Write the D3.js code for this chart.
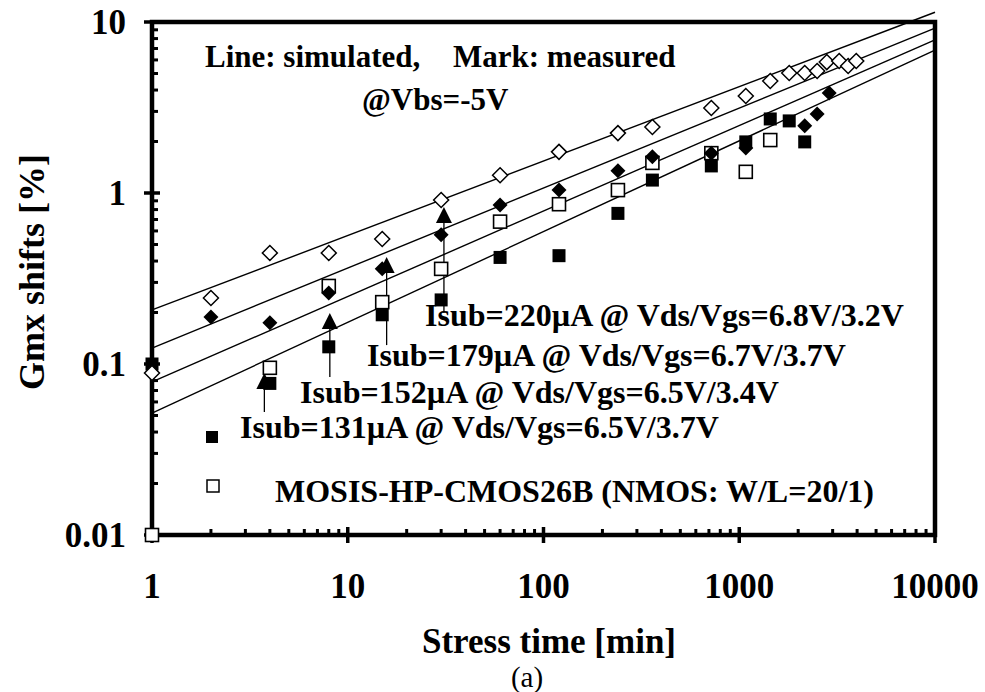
<!DOCTYPE html>
<html>
<head>
<meta charset="utf-8">
<script src="https://cdn.jsdelivr.net/npm/d3@7"></script>
<style>
  body { margin: 0; background: #fff; }
  svg { display: block; }
  text { font-family: "Liberation Serif", "Times New Roman", serif; font-weight: bold; fill: #000; }
</style>
</head>
<body>
<svg id="chart" width="985" height="692"></svg>
<script>
// ---- measured Gmx shift [%] versus stress time [min] ----
const timeOpenDiamond  = [1, 2, 4, 8, 15, 30, 60, 120, 240, 360, 720, 1080, 1440, 1800, 2160, 2500, 2800, 3240, 3600, 3960];
const shiftOpenDiamond = [0.0886, 0.243, 0.446, 0.446, 0.538, 0.91, 1.27, 1.74, 2.24, 2.43, 3.14, 3.69, 4.52, 5.03, 5.03, 5.17, 5.83, 5.91, 5.53, 5.91];

const timeFilledDiamond  = [2, 4, 8, 15, 30, 60, 120, 240, 360, 720, 1080, 2160, 2500, 2880];
const shiftFilledDiamond = [0.188, 0.174, 0.26, 0.36, 0.57, 0.85, 1.04, 1.35, 1.63, 1.71, 1.83, 2.47, 2.90, 3.85];

const timeFilledSquare  = [1, 4, 8, 15, 30, 60, 120, 240, 360, 720, 1080, 1440, 1800, 2160];
const shiftFilledSquare = [0.1, 0.077, 0.126, 0.194, 0.237, 0.42, 0.43, 0.76, 1.19, 1.44, 1.99, 2.71, 2.64, 1.99];

const timeOpenSquare  = [1, 4, 8, 15, 30, 60, 120, 240, 360, 720, 1080, 1440];
const shiftOpenSquare = [0.01, 0.095, 0.286, 0.23, 0.36, 0.68, 0.86, 1.04, 1.5, 1.71, 1.33, 2.04];

// ---- simulated power-law lines (end points) ----
const simTime = [1, 10000];
const simShiftA = [0.207, 11.4];
const simShiftB = [0.124, 9.2];
const simShiftC = [0.0785, 7.85];
const simShiftD = [0.0516, 6.85];

// ---- axes ----
const xTickValues = [1, 10, 100, 1000, 10000];
const xTickLabels = ["1", "10", "100", "1000", "10000"];
const yTickValues = [0.01, 0.1, 1, 10];
const yTickLabels = ["0.01", "0.1", "1", "10"];

// ---- annotation labels and their arrows (time, tip value, tail value) ----
const stressLabels = [
  "Isub=220\u00B5A @ Vds/Vgs=6.8V/3.2V",
  "Isub=179\u00B5A @ Vds/Vgs=6.7V/3.7V",
  "Isub=152\u00B5A @ Vds/Vgs=6.5V/3.4V",
  "Isub=131\u00B5A @ Vds/Vgs=6.5V/3.7V"
];
const arrowTime = [31, 15.8, 8.1, 3.75];
const arrowTip  = [0.828, 0.423, 0.199, 0.0886];
const arrowTail = [0.199, 0.129, 0.084, 0.0524];

const svg = d3.select("#chart");
const margin = { left: 152, top: 22, right: 50, bottom: 157 };
const W = 985, H = 692;
const x = d3.scaleLog().domain([1, 10000]).range([margin.left, W - margin.right]);
const y = d3.scaleLog().domain([0.01, 10]).range([H - margin.bottom, margin.top]);

const x0 = x.range()[0], x1 = x.range()[1];
const y0 = y.range()[0], y1 = y.range()[1];

// simulated lines
const line = d3.line().x(d => x(d[0])).y(d => y(d[1]));
[simShiftA, simShiftB, simShiftC, simShiftD].forEach(s => {
  svg.append("path")
    .attr("d", line(simTime.map((t, i) => [t, s[i]])))
    .attr("fill", "none").attr("stroke", "#000").attr("stroke-width", 1.4);
});

// frame
svg.append("rect")
  .attr("x", x0).attr("y", y1).attr("width", x1 - x0).attr("height", y0 - y1)
  .attr("fill", "none").attr("stroke", "#000").attr("stroke-width", 4.5);

// minor ticks (inside) and major ticks (crossing)
const minorX = [], minorY = [];
for (let d = 1; d < 10000; d *= 10) for (let k = 2; k <= 9; k++) minorX.push(d * k);
for (let d = 0.01; d < 9; d *= 10) for (let k = 2; k <= 9; k++) minorY.push(d * k);

svg.append("g").selectAll("line").data(minorX).join("line")
  .attr("x1", d => x(d)).attr("x2", d => x(d))
  .attr("y1", y0).attr("y2", y0 - 6)
  .attr("stroke", "#000").attr("stroke-width", 3);
svg.append("g").selectAll("line").data(minorY).join("line")
  .attr("x1", x0).attr("x2", x0 + 6)
  .attr("y1", d => y(d)).attr("y2", d => y(d))
  .attr("stroke", "#000").attr("stroke-width", 3);
svg.append("g").selectAll("line").data(xTickValues).join("line")
  .attr("x1", d => x(d)).attr("x2", d => x(d))
  .attr("y1", y0 - 8).attr("y2", y0 + 8)
  .attr("stroke", "#000").attr("stroke-width", 3.5);
svg.append("g").selectAll("line").data(yTickValues).join("line")
  .attr("x1", x0 - 8).attr("x2", x0 + 8)
  .attr("y1", d => y(d)).attr("y2", d => y(d))
  .attr("stroke", "#000").attr("stroke-width", 3.5);

// tick labels
svg.append("g").selectAll("text").data(xTickValues).join("text")
  .attr("x", d => x(d)).attr("y", 598)
  .attr("text-anchor", "middle").attr("font-size", 35)
  .text((d, i) => xTickLabels[i]);
svg.append("g").selectAll("text").data(yTickValues).join("text")
  .attr("x", 126).attr("y", d => y(d) + 12)
  .attr("text-anchor", "end").attr("font-size", 35)
  .text((d, i) => yTickLabels[i]);

// axis titles
svg.append("text").attr("x", 549).attr("y", 653)
  .attr("text-anchor", "middle").attr("font-size", 35)
  .text("Stress time [min]");
svg.append("text").attr("x", 527).attr("y", 687)
  .attr("text-anchor", "middle").attr("font-size", 29)
  .style("font-weight", "normal")
  .text("(a)");
svg.append("text")
  .attr("transform", "translate(44,272) rotate(-90)")
  .attr("text-anchor", "middle").attr("font-size", 36)
  .text("Gmx shifts [%]");

// header notes
svg.append("text").attr("x", 205).attr("y", 67).attr("font-size", 31).text("Line: simulated,");
svg.append("text").attr("x", 453).attr("y", 67).attr("font-size", 31).text("Mark: measured");
svg.append("text").attr("x", 362).attr("y", 110).attr("font-size", 31).text("@Vbs=-5V");

// annotation arrows
stressLabels.forEach((s, i) => {
  const ax = x(arrowTime[i]), tip = y(arrowTip[i]), tail = y(arrowTail[i]);
  svg.append("line").attr("x1", ax).attr("x2", ax).attr("y1", tip + 10).attr("y2", tail)
    .attr("stroke", "#000").attr("stroke-width", 1.3);
  svg.append("path")
    .attr("d", `M${ax},${tip} L${ax - 8},${tip + 16} L${ax + 8},${tip + 16} Z`)
    .attr("fill", "#000");
});

// annotation labels
const labelPos = [[425, 326], [367, 366], [300, 403], [240, 438]];
stressLabels.forEach((s, i) => {
  svg.append("text").attr("x", labelPos[i][0]).attr("y", labelPos[i][1])
    .attr("font-size", 32).text(s);
});

// legend
svg.append("rect").attr("x", 206).attr("y", 431).attr("width", 12).attr("height", 12).attr("fill", "#000");
svg.append("rect").attr("x", 207).attr("y", 480).attr("width", 12).attr("height", 12)
  .attr("fill", "#fff").attr("stroke", "#000").attr("stroke-width", 1.5);
svg.append("text").attr("x", 275).attr("y", 502).attr("font-size", 32)
  .text("MOSIS-HP-CMOS26B (NMOS: W/L=20/1)");

// measured marks
const sq = 13, dm = 7.5;
const pairs = (t, v) => t.map((d, i) => [d, v[i]]);
svg.append("g").selectAll("rect").data(pairs(timeOpenSquare, shiftOpenSquare)).join("rect")
  .attr("x", d => x(d[0]) - sq / 2).attr("y", d => y(d[1]) - sq / 2)
  .attr("width", sq).attr("height", sq)
  .attr("fill", "#fff").attr("stroke", "#000").attr("stroke-width", 1.6);
svg.append("g").selectAll("rect").data(pairs(timeFilledSquare, shiftFilledSquare)).join("rect")
  .attr("x", d => x(d[0]) - sq / 2).attr("y", d => y(d[1]) - sq / 2)
  .attr("width", sq).attr("height", sq).attr("fill", "#000");
const diamond = d => `M${x(d[0])},${y(d[1]) - dm} L${x(d[0]) + dm},${y(d[1])} L${x(d[0])},${y(d[1]) + dm} L${x(d[0]) - dm},${y(d[1])} Z`;
svg.append("g").selectAll("path").data(pairs(timeFilledDiamond, shiftFilledDiamond)).join("path")
  .attr("d", diamond).attr("fill", "#000");
svg.append("g").selectAll("path").data(pairs(timeOpenDiamond, shiftOpenDiamond)).join("path")
  .attr("d", diamond).attr("fill", "#fff").attr("stroke", "#000").attr("stroke-width", 1.5);
</script>
</body>
</html>
